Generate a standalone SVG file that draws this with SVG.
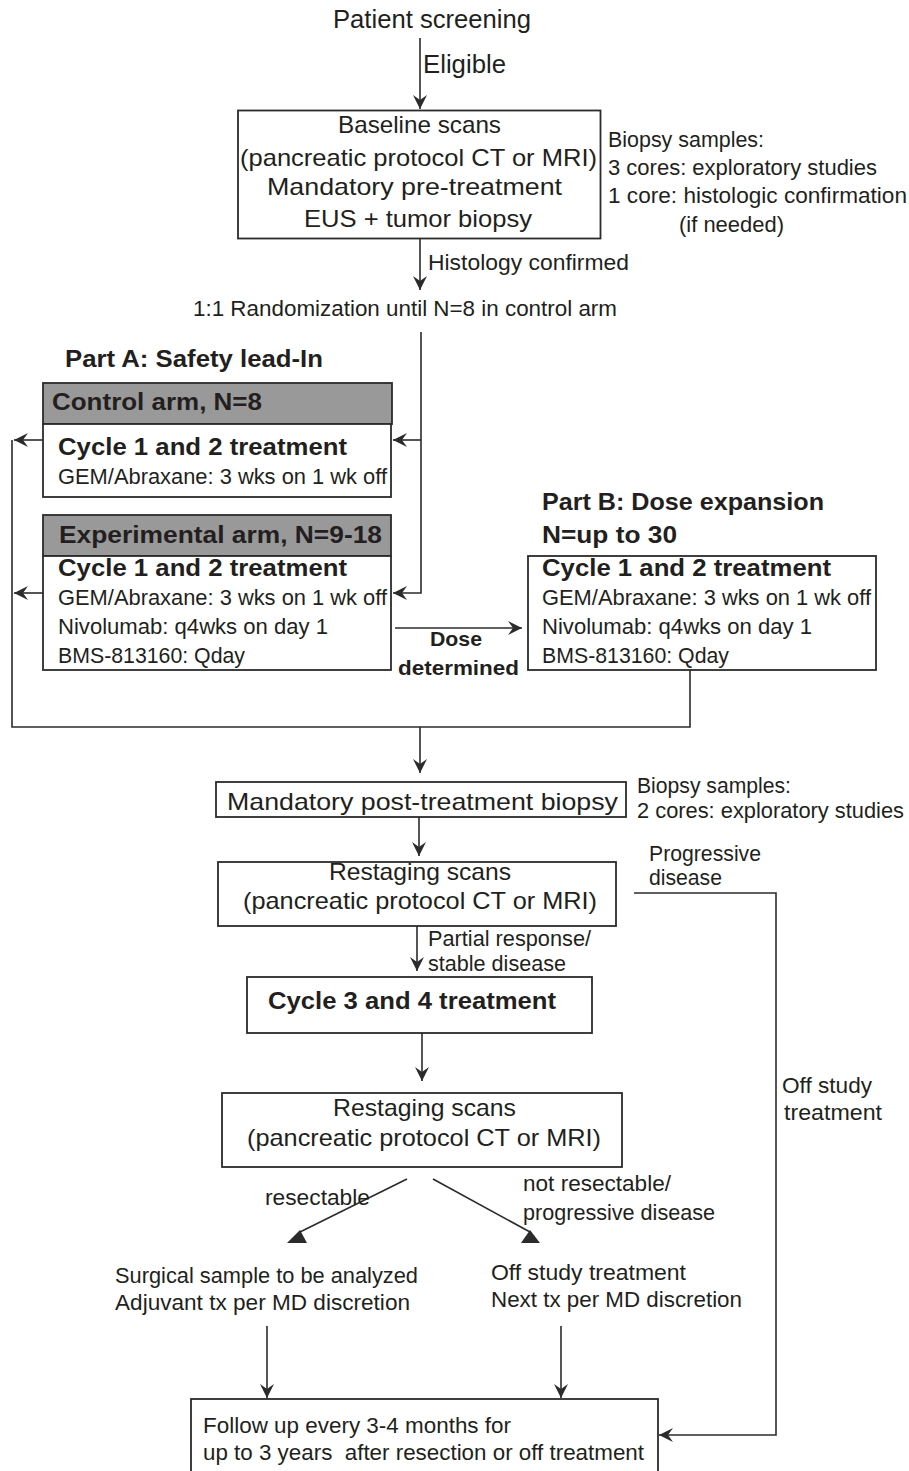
<svg xmlns="http://www.w3.org/2000/svg" width="909" height="1471" viewBox="0 0 909 1471">
  <style>
    .t{font-family:"Liberation Sans",Arial,sans-serif;fill:#231f20}
    .r25{font-size:25px}
    .r24{font-size:24px}
    .r21{font-size:22px}
    .b23{font-size:23px;font-weight:bold}
    .b24{font-size:24px;font-weight:bold}
    .b21{font-size:21px;font-weight:bold}
    .box{fill:#fff;stroke:#2b2b2b;stroke-width:1.8}
    .hdr{fill:#999;stroke:#2b2b2b;stroke-width:1.8}
    .ln{fill:none;stroke:#2b2b2b;stroke-width:1.6}
    .head{fill:#2b2b2b}
  </style>
  <defs>
    <marker id="arr" markerUnits="userSpaceOnUse" viewBox="-15 -8 16 16" markerWidth="16" markerHeight="16" refX="0" refY="0" orient="auto">
      <path d="M0,0 L-14,-7 L-9,0 L-14,7 Z" fill="#2b2b2b"/>
    </marker>
  </defs>

  <!-- connectors -->
  <g id="connectors">
    <line class="ln" x1="420" y1="38" x2="420" y2="109" marker-end="url(#arr)"/>
    <line class="ln" x1="420" y1="239" x2="420" y2="290" marker-end="url(#arr)"/>
    <polyline class="ln" points="421,332 421,593 393,593" marker-end="url(#arr)"/>
    <line class="ln" x1="421" y1="440" x2="393" y2="440" marker-end="url(#arr)"/>
    <line class="ln" x1="43" y1="440" x2="14" y2="440" marker-end="url(#arr)"/>
    <line class="ln" x1="43" y1="593" x2="14" y2="593" marker-end="url(#arr)"/>
    <polyline class="ln" points="12,440 12,727 690,727 690,670"/>
    <line class="ln" x1="420" y1="727" x2="420" y2="773" marker-end="url(#arr)"/>
    <line class="ln" x1="395" y1="628" x2="522" y2="628" marker-end="url(#arr)"/>
    <line class="ln" x1="419" y1="817" x2="419" y2="856" marker-end="url(#arr)"/>
    <line class="ln" x1="417" y1="926" x2="417" y2="971" marker-end="url(#arr)"/>
    <line class="ln" x1="422" y1="1033" x2="422" y2="1081" marker-end="url(#arr)"/>
    <polyline class="ln" points="634,893 776,893 776,1435 659,1435" marker-end="url(#arr)"/>
    <line class="ln" x1="407" y1="1179" x2="300" y2="1232"/>
    <polygon class="head" points="287,1243 307,1243 300,1230"/>
    <line class="ln" x1="433" y1="1179" x2="530" y2="1232"/>
    <polygon class="head" points="521,1243 540,1243 530,1230"/>
    <line class="ln" x1="267" y1="1326" x2="267" y2="1398" marker-end="url(#arr)"/>
    <line class="ln" x1="561" y1="1326" x2="561" y2="1398" marker-end="url(#arr)"/>
  </g>

  <g id="screening">
    <text class="t r25" x="333" y="28" textLength="198" lengthAdjust="spacingAndGlyphs">Patient screening</text>
  </g>
  <g id="lbl-eligible">
    <text class="t r25" x="423" y="73" textLength="83" lengthAdjust="spacingAndGlyphs">Eligible</text>
  </g>

  <g id="baseline">
    <rect class="box" x="238" y="110.5" width="362.5" height="128"/>
    <text class="t r24" x="338" y="133" textLength="163" lengthAdjust="spacingAndGlyphs">Baseline scans</text>
    <text class="t r24" x="240" y="166" textLength="357" lengthAdjust="spacingAndGlyphs">(pancreatic protocol CT or MRI)</text>
    <text class="t r24" x="267" y="195" textLength="295" lengthAdjust="spacingAndGlyphs">Mandatory pre-treatment</text>
    <text class="t r24" x="304" y="227" textLength="228" lengthAdjust="spacingAndGlyphs">EUS + tumor biopsy</text>
  </g>

  <g id="biopsy-note-1">
    <text class="t r21" x="608" y="147" textLength="156" lengthAdjust="spacingAndGlyphs">Biopsy samples:</text>
    <text class="t r21" x="608" y="175" textLength="269" lengthAdjust="spacingAndGlyphs">3 cores: exploratory studies</text>
    <text class="t r21" x="608" y="203" textLength="299" lengthAdjust="spacingAndGlyphs">1 core: histologic confirmation</text>
    <text class="t r21" x="679" y="232" textLength="105" lengthAdjust="spacingAndGlyphs">(if needed)</text>
  </g>

  <g id="lbl-histology">
    <text class="t r21" x="428" y="270" textLength="201" lengthAdjust="spacingAndGlyphs">Histology confirmed</text>
  </g>
  <g id="randomization">
    <text class="t r21" x="193" y="316" textLength="424" lengthAdjust="spacingAndGlyphs">1:1 Randomization until N=8 in control arm</text>
  </g>

  <g id="part-a-title">
    <text class="t b24" x="65" y="367" textLength="258" lengthAdjust="spacingAndGlyphs">Part A: Safety lead-In</text>
  </g>

  <g id="control-arm">
    <rect class="hdr" x="43" y="383" width="349" height="41"/>
    <text class="t b23" x="52" y="410" textLength="210" lengthAdjust="spacingAndGlyphs">Control arm, N=8</text>
    <rect class="box" x="43" y="424" width="348" height="73"/>
    <text class="t b24" x="58" y="455" textLength="289" lengthAdjust="spacingAndGlyphs">Cycle 1 and 2 treatment</text>
    <text class="t r21" x="58" y="484" textLength="329" lengthAdjust="spacingAndGlyphs">GEM/Abraxane: 3 wks on 1 wk off</text>
  </g>

  <g id="experimental-arm">
    <rect class="hdr" x="43" y="515" width="348" height="41"/>
    <text class="t b24" x="59" y="543" textLength="323" lengthAdjust="spacingAndGlyphs">Experimental arm, N=9-18</text>
    <rect class="box" x="43" y="556" width="348" height="114"/>
    <text class="t b24" x="58" y="576" textLength="289" lengthAdjust="spacingAndGlyphs">Cycle 1 and 2 treatment</text>
    <text class="t r21" x="58" y="605" textLength="329" lengthAdjust="spacingAndGlyphs">GEM/Abraxane: 3 wks on 1 wk off</text>
    <text class="t r21" x="58" y="634" textLength="270" lengthAdjust="spacingAndGlyphs">Nivolumab: q4wks on day 1</text>
    <text class="t r21" x="58" y="663" textLength="187" lengthAdjust="spacingAndGlyphs">BMS-813160: Qday</text>
  </g>

  <g id="lbl-dose">
    <text class="t b21" x="430" y="646" textLength="52" lengthAdjust="spacingAndGlyphs">Dose</text>
    <text class="t b21" x="398" y="675" textLength="121" lengthAdjust="spacingAndGlyphs">determined</text>
  </g>

  <g id="part-b">
    <text class="t b24" x="542" y="510" textLength="282" lengthAdjust="spacingAndGlyphs">Part B: Dose expansion</text>
    <text class="t b24" x="542" y="543" textLength="135" lengthAdjust="spacingAndGlyphs">N=up to 30</text>
    <rect class="box" x="528" y="556" width="348" height="114"/>
    <text class="t b24" x="542" y="576" textLength="289" lengthAdjust="spacingAndGlyphs">Cycle 1 and 2 treatment</text>
    <text class="t r21" x="542" y="605" textLength="329" lengthAdjust="spacingAndGlyphs">GEM/Abraxane: 3 wks on 1 wk off</text>
    <text class="t r21" x="542" y="634" textLength="270" lengthAdjust="spacingAndGlyphs">Nivolumab: q4wks on day 1</text>
    <text class="t r21" x="542" y="663" textLength="187" lengthAdjust="spacingAndGlyphs">BMS-813160: Qday</text>
  </g>

  <g id="post-biopsy">
    <rect class="box" x="216" y="782" width="410" height="35"/>
    <text class="t r24" x="227" y="810" textLength="391" lengthAdjust="spacingAndGlyphs">Mandatory post-treatment biopsy</text>
  </g>
  <g id="biopsy-note-2">
    <text class="t r21" x="637" y="793" textLength="154" lengthAdjust="spacingAndGlyphs">Biopsy samples:</text>
    <text class="t r21" x="637" y="818" textLength="267" lengthAdjust="spacingAndGlyphs">2 cores: exploratory studies</text>
  </g>

  <g id="restaging-1">
    <rect class="box" x="218" y="862" width="398" height="64"/>
    <text class="t r24" x="329" y="880" textLength="182" lengthAdjust="spacingAndGlyphs">Restaging scans</text>
    <text class="t r24" x="243" y="909" textLength="354" lengthAdjust="spacingAndGlyphs">(pancreatic protocol CT or MRI)</text>
  </g>

  <g id="lbl-progressive">
    <text class="t r21" x="649" y="861" textLength="112" lengthAdjust="spacingAndGlyphs">Progressive</text>
    <text class="t r21" x="649" y="885" textLength="73" lengthAdjust="spacingAndGlyphs">disease</text>
  </g>
  <g id="lbl-partial">
    <text class="t r21" x="428" y="946" textLength="163" lengthAdjust="spacingAndGlyphs">Partial response/</text>
    <text class="t r21" x="428" y="971" textLength="138" lengthAdjust="spacingAndGlyphs">stable disease</text>
  </g>

  <g id="cycle-3-4">
    <rect class="box" x="247" y="977" width="345" height="56"/>
    <text class="t b24" x="268" y="1009" textLength="288" lengthAdjust="spacingAndGlyphs">Cycle 3 and 4 treatment</text>
  </g>

  <g id="lbl-off-study">
    <text class="t r21" x="782" y="1093" textLength="90" lengthAdjust="spacingAndGlyphs">Off study</text>
    <text class="t r21" x="784" y="1120" textLength="98" lengthAdjust="spacingAndGlyphs">treatment</text>
  </g>

  <g id="restaging-2">
    <rect class="box" x="222" y="1093" width="400" height="74"/>
    <text class="t r24" x="333" y="1116" textLength="183" lengthAdjust="spacingAndGlyphs">Restaging scans</text>
    <text class="t r24" x="247" y="1146" textLength="354" lengthAdjust="spacingAndGlyphs">(pancreatic protocol CT or MRI)</text>
  </g>

  <g id="lbl-resectable">
    <text class="t r21" x="265" y="1205" textLength="105" lengthAdjust="spacingAndGlyphs">resectable</text>
  </g>
  <g id="lbl-not-resectable">
    <text class="t r21" x="523" y="1191" textLength="148" lengthAdjust="spacingAndGlyphs">not resectable/</text>
    <text class="t r21" x="523" y="1220" textLength="192" lengthAdjust="spacingAndGlyphs">progressive disease</text>
  </g>

  <g id="surgery">
    <text class="t r21" x="115" y="1283" textLength="303" lengthAdjust="spacingAndGlyphs">Surgical sample to be analyzed</text>
    <text class="t r21" x="115" y="1310" textLength="295" lengthAdjust="spacingAndGlyphs">Adjuvant tx per MD discretion</text>
  </g>
  <g id="off-study">
    <text class="t r21" x="491" y="1280" textLength="195" lengthAdjust="spacingAndGlyphs">Off study treatment</text>
    <text class="t r21" x="491" y="1307" textLength="251" lengthAdjust="spacingAndGlyphs">Next tx per MD discretion</text>
  </g>

  <g id="follow-up">
    <rect class="box" x="191" y="1399" width="467" height="85"/>
    <text class="t r21" x="203" y="1433" textLength="308" lengthAdjust="spacingAndGlyphs">Follow up every 3-4 months for</text>
    <text class="t r21" x="203" y="1460" textLength="441" lengthAdjust="spacingAndGlyphs" style="white-space:pre">up to 3 years  after resection or off treatment</text>
  </g>
</svg>
